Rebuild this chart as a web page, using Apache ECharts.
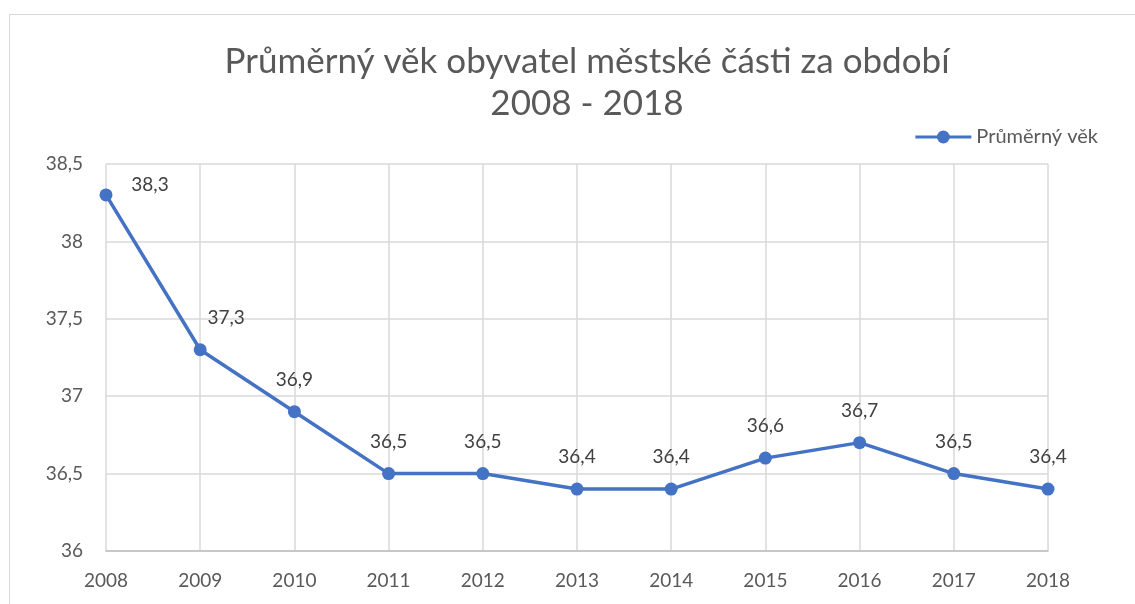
<!DOCTYPE html>
<html>
<head>
<meta charset="utf-8">
<style>
  html, body { margin: 0; padding: 0; background: #fff; }
  #chart { width: 1135px; height: 604px; }
</style>
<script src="https://cdn.jsdelivr.net/npm/echarts@6/dist/echarts.min.js"></script>
</head>
<body>
<div id="chart"></div>
<script>
const years = ['2008', '2009', '2010', '2011', '2012', '2013', '2014', '2015', '2016', '2017', '2018'];
const avgAge = [38.3, 37.3, 36.9, 36.5, 36.5, 36.4, 36.4, 36.6, 36.7, 36.5, 36.4];
const seriesName = 'Průměrný věk';

const fmt = v => String(v).replace('.', ',');
const font = 'Lato, "Open Sans", sans-serif';

// first two labels sit to the right of the point, like in the original
const labelOffsets = { 0: [44, 22], 1: [26, 0] };

const chart = echarts.init(document.getElementById('chart'));
chart.setOption({
  animation: false,
  title: {
    text: 'Průměrný věk obyvatel městské části za období\n2008 - 2018',
    left: 582,
    top: 36,
    textAlign: 'center',
    textStyle: { fontFamily: font, fontSize: 35, fontWeight: 'normal', color: '#595959', lineHeight: 42 }
  },
  legend: {
    right: 32,
    top: 122,
    itemWidth: 56,
    itemHeight: 16,
    itemGap: 4,
    lineStyle: { width: 3 },
    textStyle: { fontFamily: font, fontSize: 20, color: '#595959' },
    data: [seriesName]
  },
  graphic: [{
    type: 'rect',
    shape: { x: 9.5, y: 14.5, width: 1200, height: 700 },
    style: { fill: 'none', stroke: '#d9d9d9', lineWidth: 1 },
    silent: true
  }],
  grid: { left: 106, right: 87, top: 164, bottom: 53 },
  xAxis: {
    type: 'category',
    data: years,
    boundaryGap: false,
    axisLine: { lineStyle: { color: '#bfbfbf', width: 1.5 } },
    axisTick: { show: false },
    axisLabel: { fontFamily: font, fontSize: 19, color: '#595959', margin: 20 },
    splitLine: { show: true, lineStyle: { color: '#d9d9d9', width: 1.5 } }
  },
  yAxis: {
    type: 'value',
    min: 36,
    max: 38.5,
    interval: 0.5,
    axisLine: { show: false },
    axisTick: { show: false },
    axisLabel: { fontFamily: font, fontSize: 19, color: '#595959', margin: 23, formatter: fmt },
    splitLine: { lineStyle: { color: '#d9d9d9', width: 1.5 } }
  },
  series: [{
    name: seriesName,
    type: 'line',
    data: avgAge.map((v, i) => labelOffsets[i]
      ? { value: v, label: { offset: labelOffsets[i] } }
      : v),
    symbol: 'circle',
    symbolSize: 13,
    itemStyle: { color: '#4472C4' },
    lineStyle: { color: '#4472C4', width: 3.5 },
    label: {
      show: true,
      position: 'top',
      distance: 16,
      fontFamily: font,
      fontSize: 19,
      color: '#404040',
      formatter: p => fmt(p.value)
    }
  }]
});
</script>
</body>
</html>
